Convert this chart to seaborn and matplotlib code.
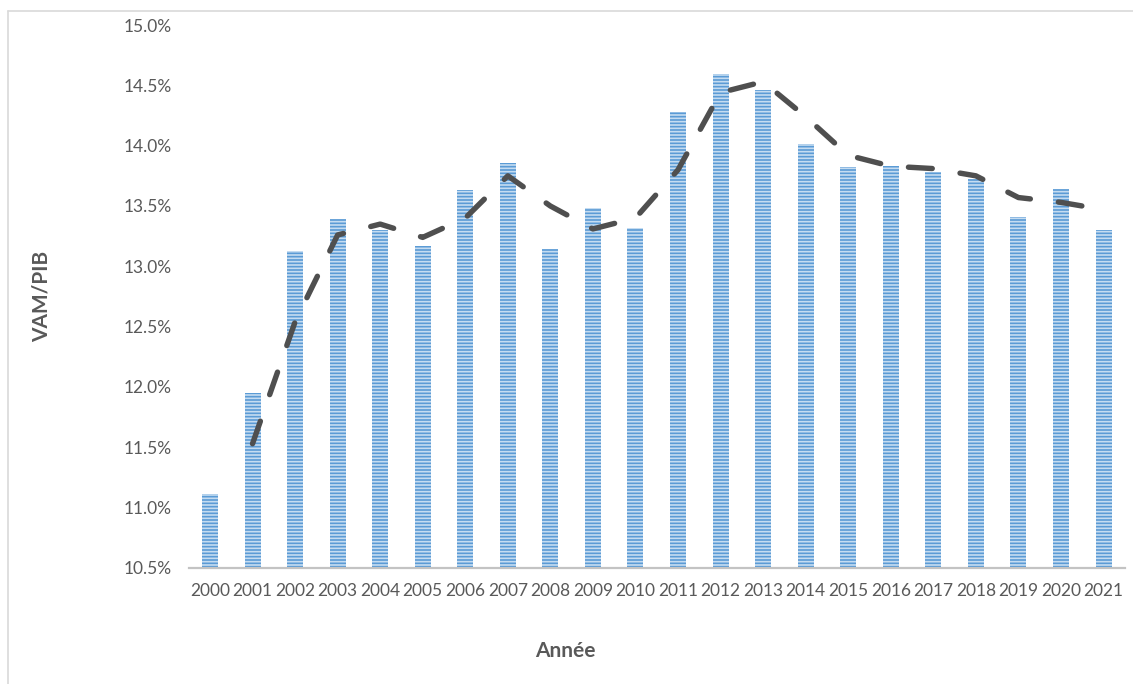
import numpy as np
import pandas as pd
import matplotlib
matplotlib.use("Agg")
import matplotlib.pyplot as plt
from matplotlib.lines import Line2D
import seaborn as sns

# VAM/PIB ratio by year (%)
years = [str(y) for y in range(2000, 2022)]
vam_pib = [11.11, 11.95, 13.13, 13.39, 13.30, 13.17, 13.63, 13.86, 13.14, 13.48,
           13.32, 14.28, 14.59, 14.46, 14.01, 13.82, 13.83, 13.78, 13.72, 13.41,
           13.64, 13.30]

# Two-period moving-average trend (starts in 2001)
trend_years = years[1:]
trend = [11.53, 12.54, 13.26, 13.35, 13.24, 13.40, 13.75, 13.50, 13.31, 13.40,
         13.80, 14.44, 14.53, 14.24, 13.92, 13.83, 13.81, 13.75, 13.57, 13.53,
         13.47]

y_ticks = [10.5, 11.0, 11.5, 12.0, 12.5, 13.0, 13.5, 14.0, 14.5, 15.0]

sns.set_theme(style="white")
plt.rcParams["font.family"] = ["Lato", "DejaVu Sans"]
plt.rcParams["hatch.linewidth"] = 1.2

W, H = 1133, 684
fig = plt.figure(figsize=(W / 100, H / 100), dpi=100)
ax = fig.add_axes([188.7 / W, (H - 568) / H, (1124.8 - 188.7) / W, (568 - 25) / H])

df = pd.DataFrame({"year": years, "value": vam_pib})
sns.barplot(data=df, x="year", y="value", order=years, color="#5b9bd5",
            width=0.376, saturation=1, ax=ax, zorder=2)
for p in ax.patches:
    p.set_facecolor("#5b9bd5")
    p.set_edgecolor("#c5dcf1")
    p.set_linewidth(0)
    p.set_hatch("-----")

tdf = pd.DataFrame({"pos": [years.index(y) for y in trend_years], "value": trend})
sns.lineplot(data=tdf, x="pos", y="value", ax=ax, color="#4f4f4f",
             linewidth=3.9, zorder=3)
line = ax.lines[-1]
line.set_dashes((4.4, 5.2))
line.set_dash_capstyle("round")
line.set_solid_capstyle("round")

ax.set_xlim(-0.5, len(years) - 0.5)
ax.set_ylim(y_ticks[0], y_ticks[-1])
ax.set_yticks(y_ticks)
ax.set_yticklabels([f"{t:.1f}%" for t in y_ticks])

for side in ("left", "top", "right"):
    ax.spines[side].set_visible(False)
ax.spines["bottom"].set_color("#c3c3c3")
ax.spines["bottom"].set_linewidth(1.6)
ax.tick_params(axis="both", length=0, labelsize=12.5, labelcolor="#595959")
ax.tick_params(axis="x", pad=11)
ax.tick_params(axis="y", pad=12)

ax.set_xlabel("")
ax.set_ylabel("")
fig.text(42 / W, 1 - 296 / H, "VAM/PIB", rotation=90, ha="center", va="center",
         fontsize=15, fontweight="bold", color="#595959")
fig.text(565 / W, 1 - 651 / H, "Année", ha="center", va="center",
         fontsize=15, fontweight="bold", color="#595959")

# Chart-area frame (top and left edges)
fig.add_artist(Line2D([7.5 / W, 7.5 / W], [0, 1 - 11 / H], color="#d9d9d9",
                      linewidth=1.2, transform=fig.transFigure))
fig.add_artist(Line2D([7.5 / W, 1], [1 - 11 / H, 1 - 11 / H], color="#d9d9d9",
                      linewidth=1.2, transform=fig.transFigure))

fig.savefig("out.png", dpi=100, facecolor="white")
